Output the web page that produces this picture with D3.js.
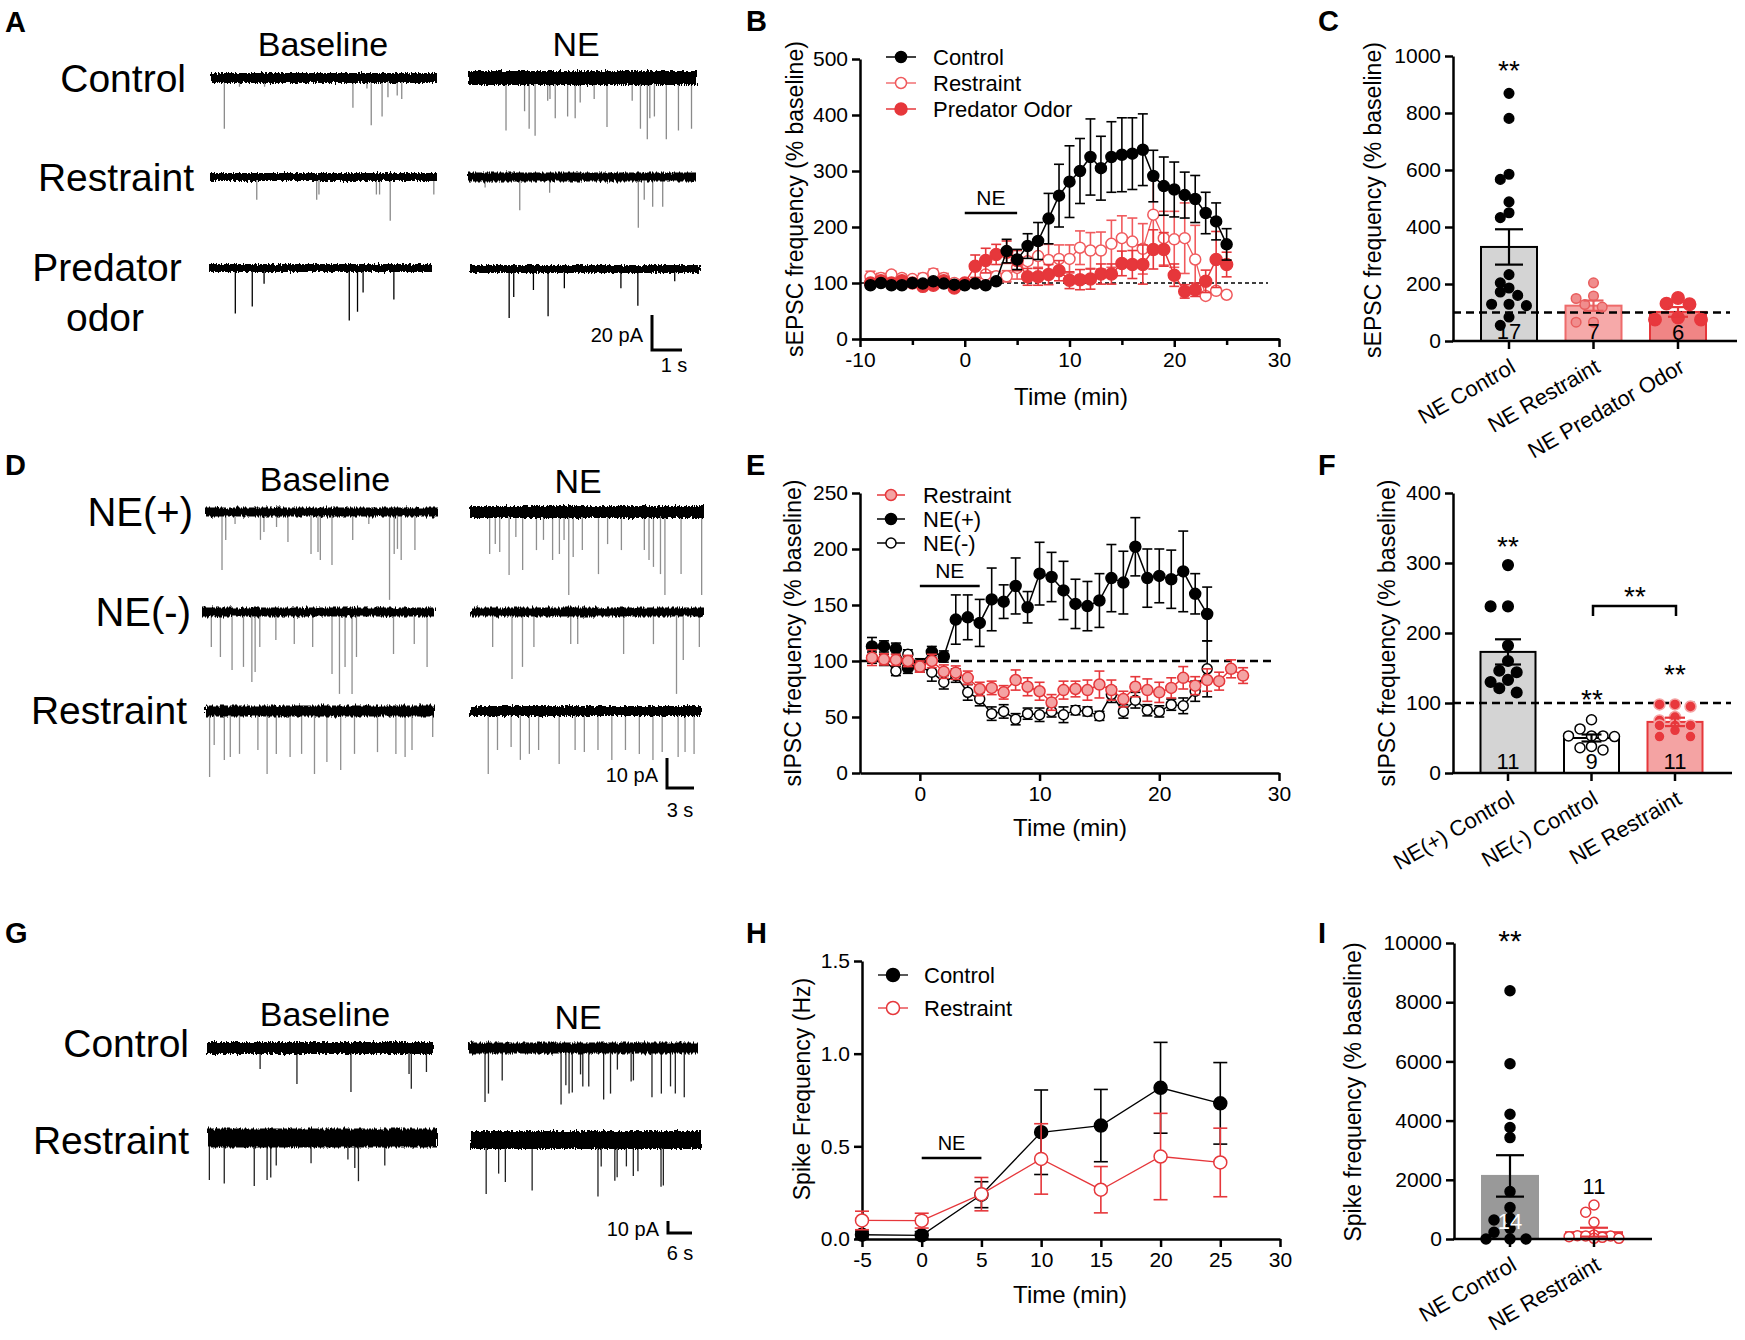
<!DOCTYPE html>
<html><head><meta charset="utf-8">
<script src="https://cdn.jsdelivr.net/npm/d3@7"></script>
<style>body{margin:0;background:#fff}svg{display:block}text{font-family:'Liberation Sans',Arial,Helvetica,sans-serif}</style>
</head><body>
<script>
// ====================== DATA ======================
// Trace events: [position within sweep (0-1), event amplitude (pA)]
const aCtrlBase = [[0.059,29],[0.126,5],[0.237,5],[0.628,17],[0.690,6],[0.709,27],[0.757,22],[0.783,11],[0.824,10],[0.844,12]];
const aCtrlNE = [[0.166,30],[0.247,19],[0.267,29],[0.293,33],[0.348,13],[0.358,12],[0.381,23],[0.435,22],[0.468,23],[0.490,14],[0.551,12],[0.607,28],[0.717,13],[0.753,29],[0.783,35],[0.794,23],[0.814,22],[0.866,35],[0.919,30],[0.976,29]];
const aRestBase = [[0.206,13],[0.470,13],[0.480,10],[0.733,10],[0.747,10],[0.794,25],[0.986,10]];
const aRestNE = [[0.075,6],[0.227,19],[0.358,9],[0.747,29],[0.773,13],[0.810,17],[0.854,17]];
const aPredBase = [[0.118,26],[0.194,22],[0.247,9],[0.629,30],[0.666,25],[0.691,14],[0.829,18]];
const aPredNE = [[0.171,28],[0.191,16],[0.277,12],[0.341,27],[0.412,11],[0.659,11],[0.733,21],[0.894,7]];

const dPlusBase = [[0.073,19.3],[0.089,9.3],[0.129,4],[0.238,9.3],[0.253,6.7],[0.307,5],[0.356,10],[0.455,14],[0.485,13.3],[0.495,16],[0.545,17.7],[0.634,9.3],[0.703,4],[0.792,29.3],[0.812,14],[0.826,12.3],[0.842,16],[0.901,12.7]];
const dPlusNE = [[0.084,14],[0.108,10.7],[0.127,13.3],[0.167,21],[0.196,8.3],[0.225,19.3],[0.284,12.7],[0.314,9.3],[0.353,16],[0.382,14],[0.402,9.3],[0.422,27.7],[0.441,15],[0.480,12.7],[0.549,20.7],[0.588,10.7],[0.647,12.7],[0.745,12.7],[0.765,16],[0.784,18.3],[0.814,20.7],[0.833,27.7],[0.902,20.7],[0.990,27.7]];
const dMinusBase = [[0.040,11.7],[0.079,15],[0.129,19.3],[0.178,18.3],[0.214,23.3],[0.228,20],[0.248,11.7],[0.317,9.3],[0.396,10.7],[0.475,11.7],[0.558,20.7],[0.590,27.3],[0.614,18.3],[0.644,27.3],[0.663,15],[0.822,14],[0.911,10.7],[0.966,18.3]];
const dMinusNE = [[0.093,11.7],[0.176,22.3],[0.221,18.3],[0.270,11.7],[0.428,10.7],[0.458,10.7],[0.655,14],[0.783,10.7],[0.882,27.3],[0.911,16],[0.980,11.7]];
const dRestBase = [[0.02,22],[0.04,11.3],[0.084,16.3],[0.11,15.3],[0.15,14.3],[0.23,13],[0.27,21],[0.31,14.3],[0.37,15.3],[0.42,14.3],[0.476,21],[0.53,17],[0.59,19.7],[0.65,14.3],[0.75,13.7],[0.83,14.3],[0.87,15.3],[0.90,13],[0.99,8.7]];
const dRestNE = [[0.079,21],[0.119,13],[0.178,12],[0.218,16.3],[0.257,14.3],[0.297,13],[0.386,17.7],[0.455,13],[0.495,13.7],[0.554,13],[0.614,16.3],[0.673,13],[0.733,14.3],[0.792,16.3],[0.832,13.7],[0.901,15.3],[0.931,13.7],[0.970,14.3]];

const gCtrlBase = [[0.235,17.5],[0.398,30],[0.637,36.7],[0.894,21.7],[0.904,34],[0.971,20]];
const gCtrlNE = [[0.070,45],[0.085,38],[0.145,27],[0.402,47],[0.423,31],[0.437,38],[0.451,37],[0.487,22],[0.497,32],[0.523,32],[0.588,43],[0.618,38],[0.648,18],[0.708,28],[0.718,27],[0.799,41],[0.840,38],[0.880,32],[0.901,38],[0.940,41]];
const gRestBase = [[0.006,35],[0.071,38],[0.202,40],[0.258,35],[0.274,33],[0.298,23],[0.450,21],[0.611,18],[0.641,25],[0.657,36],[0.772,23]];
const gRestNE = [[0.070,45],[0.124,28],[0.153,35],[0.269,42],[0.554,47],[0.568,22],[0.627,34],[0.637,31],[0.677,22],[0.707,30],[0.727,26],[0.827,39],[0.837,38]];

// Panel B: sEPSC time course
const bTime = [-9,-8,-7,-6,-5,-4,-3,-2,-1,0,1,2,3,4,5,6,7,8,9,10,11,12,13,14,15,16,17,18,19,20,21,22,23,24,25];
const bControl = [96,100,96,96,100,99,103,99,97,96,99,96,103,157,142,166,175,215,256,281,300,325,305,325,329,331,338,291,273,267,257,250,225,210,169];
const bControlSem = [4,4,4,4,4,4,5,4,4,4,4,4,4,21,18,22,33,45,56,64,58,68,57,63,66,64,64,46,52,49,41,42,37,33,28];
const bRestraint = [111,109,115,109,107,109,117,109,100,99,100,115,112,112,127,139,148,141,143,143,163,158,158,170,180,174,161,222,180,178,180,142,77,86,79];
const bRestraintSem = [10,8,6,6,6,8,8,8,6,5,6,6,8,10,20,25,20,28,25,25,30,32,33,42,40,42,45,63,48,50,63,61,5,5,5];
const bPredator = [100,104,100,104,100,94,96,104,91,100,130,140,151,155,140,111,111,115,122,105,106,107,116,116,135,133,133,160,160,114,85,88,103,142,133];
const bPredatorSem = [5,5,5,5,5,6,6,6,5,5,20,22,18,20,18,15,15,18,18,15,18,18,18,18,22,25,35,35,30,20,12,12,20,50,22];

// Panel C: sEPSC bars
const cCats = ["NE Control","NE Restraint","NE Predator Odor"];
const cMeans = [330,124,102];
const cSems = [62,18,17];
const cN = ["17","7","6"];
const cDots = [
  [869,781,585,567,488,450,433,233,204,186,172,160,129,129,124,84,55],
  [204,158,149,128,119,66,66],
  [151,131,129,82,75,75]
];

// Panel E: sIPSC time course
const eTimeR = [-4,-3,-2,-1,0,1,2,3,4,5,6,7,8,9,10,11,12,13,14,15,16,17,18,19,20,21,22,23,24,25,26,27];
const eRestraint = [103,101.5,101,100,95,100,90.5,89.6,85,75,76,72,83,77,73,63,74,75,74,79,74,66,77,74,72,76,85,78,83,82,93,87];
const eRestraintSem = [7,5,5,5,5,6,6,6,6,6,6,6,9,8,8,7,8,7,9,12,9,7,9,10,9,9,10,8,10,8,8,7];
const eTimeNE = [-4,-3,-2,-1,0,1,2,3,4,5,6,7,8,9,10,11,12,13,14,15,16,17,18,19,20,21,22,23,24];
const eNEplus = [113,113,111,94,97,108,104,137,139,134,155,153,167,148,178,175,163,151,149,154,174,170,202,174,176,173,180,160,142];
const eNEplusSem = [8,5,5,5,5,5,5,22,20,21,28,15,25,14,28,22,26,22,22,24,30,28,26,26,24,26,36,18,24];
const eNEminus = [103,101,91,106,95,90,81,87,72,66,53,55,48,53,52,55,52,56,55,51,70,55,65,56,55,61,60,73,93];
const eNEminusSem = [5,5,4,4,5,8,6,6,7,6,6,6,5,5,6,5,7,4,4,4,7,6,7,5,5,5,7,9,25];

// Panel F: sIPSC bars
const fCats = ["NE(+) Control","NE(-) Control","NE Restraint"];
const fMeans = [173,50,73];
const fSems = [18,5,6];
const fN = ["11","9","11"];
const fDots = [
  [297,238,238,182,160,146,144,133,130,121,115],
  [76,63,53,53,53,52,38,36,33],
  [98,98,95,80,75,68,68,68,61,52,52]
];

// Panel H: spike frequency
const hTime = [-5,0,5,10,15,20,25];
const hControl = [0.023,0.020,0.239,0.576,0.612,0.816,0.732];
const hControlSem = [0.02,0.02,0.07,0.228,0.195,0.245,0.22];
const hRestraint = [0.100,0.099,0.242,0.432,0.266,0.445,0.413];
const hRestraintSem = [0.05,0.04,0.09,0.19,0.125,0.233,0.185];

// Panel I: spike frequency bars
const iCats = ["NE Control","NE Restraint"];
const iMeans = [2131,230];
const iSems = [700,150];
const iN = ["14","11"];
const iDots = [
  [8388,5919,4216,3765,3427,1601,1060,699,643,361,225,0,0,0],
  [1150,902,564,135,113,100,100,80,56,23,23]
];

// ====================== DRAWING ======================
const RED = '#e6373b';
const svg = d3.select('body').append('svg').attr('width',1745).attr('height',1340);

// noise texture filter for recording sweeps
const defs = svg.append('defs');
const flt = defs.append('filter').attr('id','noisy').attr('filterUnits','userSpaceOnUse')
  .attr('x',0).attr('y',0).attr('width',1745).attr('height',1340);
flt.append('feTurbulence').attr('type','fractalNoise').attr('baseFrequency','0.7 0.08').attr('numOctaves',2).attr('seed',7).attr('result','n');
flt.append('feDisplacementMap').attr('in','SourceGraphic').attr('in2','n').attr('scale',6)
  .attr('xChannelSelector','R').attr('yChannelSelector','G');

function txt(x,y,s,size,opt={}){
  const t = svg.append('text').attr('x',x).attr('y',y).attr('font-size',size)
    .attr('text-anchor',opt.anchor||'middle').attr('dy',opt.dy||'0.35em')
    .attr('fill',opt.fill||'#000').text(s);
  if(opt.bold) t.attr('font-weight','bold');
  if(opt.rotate!=null) t.attr('transform',`rotate(${opt.rotate},${x},${y})`);
  return t;
}

// Panel letters
[['A',5,32],['D',5,475],['G',5,943],['B',746,31],['E',746,475],['H',746,943],['C',1318,31],['F',1318,475],['I',1318,943]]
  .forEach(([s,x,y])=>txt(x,y,s,29,{anchor:'start',dy:'0',bold:true}));

// ---------- Traces ----------
function drawTrace(x0,x1,y,events,pxPerPA,band,spikeColor){
  const xs = d3.scaleLinear([0,1],[x0,x1]);
  const amp = d3.scaleLinear([0,1],[0,pxPerPA]);
  svg.append('g').selectAll('line').data(events).join('line')
    .attr('x1',d=>xs(d[0])).attr('x2',d=>xs(d[0]))
    .attr('y1',y).attr('y2',d=>y+amp(d[1]))
    .attr('stroke',spikeColor).attr('stroke-width',1.3);
  svg.append('rect').attr('x',x0).attr('width',x1-x0).attr('y',y-band/2).attr('height',band)
    .attr('fill','#000').attr('filter','url(#noisy)');
}
function scaleBar(x,yTop,vLen,hLen,lab1,lab2,lab2x,lab2y){
  svg.append('path').attr('d',`M${x},${yTop}V${yTop+vLen}H${x+hLen}`).attr('fill','none')
    .attr('stroke','#000').attr('stroke-width',3);
  txt(x-9,yTop+vLen/2+2,lab1,20,{anchor:'end'});
  txt(lab2x,lab2y,lab2,20);
}

// Panel A
const aPx = 35/20; // px per pA
txt(323,44,'Baseline',34); txt(576,44,'NE',34);
txt(186,78,'Control',39,{anchor:'end'});
txt(194,177,'Restraint',39,{anchor:'end'});
txt(107,267,'Predator',39); txt(105,317,'odor',39);
drawTrace(211,437,78,aCtrlBase,aPx,10,'#8a8a8a');
drawTrace(468,697,78,aCtrlNE,aPx,14,'#8a8a8a');
drawTrace(210,437,177,aRestBase,aPx,8,'#8a8a8a');
drawTrace(468,696,177,aRestNE,aPx,9,'#8a8a8a');
drawTrace(209,432,268,aPredBase,aPx,8,'#000');
drawTrace(470,699,269,aPredNE,aPx,8,'#000');
scaleBar(652,315,20*aPx,30,'20 pA','1 s',674,365);

// Panel D
const dPx = 3;
txt(325,479,'Baseline',34); txt(578,481,'NE',34);
txt(193,512,'NE(+)',40,{anchor:'end'});
txt(191,612,'NE(-)',40,{anchor:'end'});
txt(187,710,'Restraint',39,{anchor:'end'});
drawTrace(205,438,512,dPlusBase,dPx,9,'#8f8f8f');
drawTrace(470,704,512,dPlusNE,dPx,12,'#8f8f8f');
drawTrace(202,435,612,dMinusBase,dPx,9,'#8f8f8f');
drawTrace(471,704,612,dMinusNE,dPx,9,'#8f8f8f');
drawTrace(205,435,711,dRestBase,dPx,11,'#8f8f8f');
drawTrace(470,701,711,dRestNE,dPx,10,'#8f8f8f');
scaleBar(667,758,10*dPx,27,'10 pA','3 s',680,810);

// Panel G
const gPx = 1.2;
txt(325,1014,'Baseline',34); txt(578,1017,'NE',34);
txt(189,1043,'Control',39,{anchor:'end'});
txt(189,1140,'Restraint',39,{anchor:'end'});
drawTrace(207,433,1048,gCtrlBase,gPx,12,'#222');
drawTrace(469,698,1048,gCtrlNE,gPx,11,'#222');
drawTrace(208,437,1138,gRestBase,gPx,19,'#222');
drawTrace(470,701,1140,gRestNE,gPx,18,'#222');
scaleBar(668,1221,10*gPx,24,'10 pA','6 s',680,1253);

// ---------- Line plots ----------
function styleAxis(g){
  g.attr('font-family',null).attr('font-size',21);
  g.selectAll('path,line').attr('stroke','#000').attr('stroke-width',2.5);
  g.selectAll('text').attr('fill','#000');
}
function linePlot(o){
  const x = d3.scaleLinear(o.xDomain,o.xRange);
  const y = d3.scaleLinear(o.yDomain,o.yRange);
  const g = svg.append('g');
  if(o.ref!=null) g.append('line').attr('x1',o.xRange[0]).attr('x2',o.refEnd)
    .attr('y1',y(o.ref)).attr('y2',y(o.ref)).attr('stroke','#000')
    .attr('stroke-width',o.refW).attr('stroke-dasharray',o.refDash);
  const fmt = o.xFmt || (d=>String(d));
  if(o.xMinor){
    const gm = g.append('g').attr('transform',`translate(0,${o.yRange[0]})`)
      .call(d3.axisBottom(x).tickValues(o.xMinor).tickFormat('').tickSize(6).tickSizeOuter(0));
    styleAxis(gm);
  }
  const gx = g.append('g').attr('transform',`translate(0,${o.yRange[0]})`)
    .call(d3.axisBottom(x).tickValues(o.xTicks).tickFormat(fmt).tickSize(8).tickSizeOuter(0).tickPadding(5));
  styleAxis(gx);
  const gy = g.append('g').attr('transform',`translate(${o.xRange[0]},0)`)
    .call(d3.axisLeft(y).tickValues(o.yTicks).tickFormat(o.yFmt||(d=>String(d))).tickSize(8).tickSizeOuter(0).tickPadding(4));
  styleAxis(gy);
  // NE bar
  g.append('line').attr('x1',x(0)).attr('x2',x(5)).attr('y1',o.neY).attr('y2',o.neY)
    .attr('stroke','#000').attr('stroke-width',2.5);
  txt(x(2.5),o.neY-15,'NE',o.neSize||21);
  // series
  o.series.forEach(s=>{
    const pts = s.x.map((t,i)=>({t,v:s.y[i],e:s.e[i]}));
    const sg = svg.append('g');
    sg.append('path').datum(pts).attr('fill','none').attr('stroke',s.line).attr('stroke-width',s.lw||1.5)
      .attr('d',d3.line().x(d=>x(d.t)).y(d=>y(d.v)));
    const eb = sg.selectAll('g.eb').data(pts).join('g').attr('stroke',s.line).attr('stroke-width',1.6);
    eb.append('line').attr('x1',d=>x(d.t)).attr('x2',d=>x(d.t)).attr('y1',d=>y(d.v-d.e)).attr('y2',d=>y(d.v+d.e));
    eb.append('line').attr('x1',d=>x(d.t)-s.cap).attr('x2',d=>x(d.t)+s.cap).attr('y1',d=>y(d.v+d.e)).attr('y2',d=>y(d.v+d.e));
    eb.append('line').attr('x1',d=>x(d.t)-s.cap).attr('x2',d=>x(d.t)+s.cap).attr('y1',d=>y(d.v-d.e)).attr('y2',d=>y(d.v-d.e));
    sg.selectAll('circle').data(pts).join('circle').attr('cx',d=>x(d.t)).attr('cy',d=>y(d.v)).attr('r',s.r)
      .attr('fill',s.fill).attr('stroke',s.stroke).attr('stroke-width',s.sw||1.5);
  });
  // legend
  o.legend.forEach((L,i)=>{
    const ly = o.legY + i*o.legStep;
    const s = o.series.find(q=>q.name===L);
    svg.append('line').attr('x1',o.legX).attr('x2',o.legX+o.legW).attr('y1',ly).attr('y2',ly)
      .attr('stroke',s.line).attr('stroke-width',s.lw||1.5);
    svg.append('circle').attr('cx',o.legX+o.legW/2).attr('cy',ly).attr('r',s.r)
      .attr('fill',s.fill).attr('stroke',s.stroke).attr('stroke-width',s.sw||1.5);
    txt(o.legTextX,ly,L,22,{anchor:'start'});
  });
  txt(o.xTitle[0],o.xTitle[1],'Time (min)',24);
  txt(o.yTitle[0],o.yTitle[1],o.yLabel,23,{rotate:-90});
}

// Panel B
linePlot({
  xDomain:[-10,30], xRange:[860,1279], yDomain:[0,500], yRange:[339,59],
  xTicks:[-10,0,10,20,30], xMinor:[-5,5,15,25], yTicks:[0,100,200,300,400,500],
  ref:100, refEnd:1268, refW:1.3, refDash:'4,3', neY:213,
  series:[
    {name:'Restraint',x:bTime,y:bRestraint,e:bRestraintSem,line:'#f05a5d',fill:'#fff',stroke:'#f05a5d',r:5.5,cap:5,lw:1.3},
    {name:'Predator Odor',x:bTime,y:bPredator,e:bPredatorSem,line:RED,fill:RED,stroke:RED,r:6,cap:5},
    {name:'Control',x:bTime,y:bControl,e:bControlSem,line:'#000',fill:'#000',stroke:'#000',r:5.5,cap:5},
  ],
  legend:['Control','Restraint','Predator Odor'], legX:886, legW:30, legY:57, legStep:26, legTextX:933,
  xTitle:[1071,397], yTitle:[795,199], yLabel:'sEPSC frequency (% baseline)'
});

// Panel E
linePlot({
  xDomain:[-5,30], xRange:[860,1279], yDomain:[0,250], yRange:[773,493],
  xTicks:[0,10,20,30], yTicks:[0,50,100,150,200,250],
  ref:100, refEnd:1273, refW:2.5, refDash:'8,5', neY:586,
  series:[
    {name:'NE(+)',x:eTimeNE,y:eNEplus,e:eNEplusSem,line:'#000',fill:'#000',stroke:'#000',r:5.5,cap:5},
    {name:'NE(-)',x:eTimeNE,y:eNEminus,e:eNEminusSem,line:'#000',fill:'#fff',stroke:'#000',r:5,cap:5},
    {name:'Restraint',x:eTimeR,y:eRestraint,e:eRestraintSem,line:RED,fill:'#f4a3a3',stroke:RED,r:5.5,cap:5},
  ],
  legend:['Restraint','NE(+)','NE(-)'], legX:877, legW:28, legY:495, legStep:24, legTextX:923,
  xTitle:[1070,828], yTitle:[793,633], yLabel:'sIPSC frequency (% baseline)'
});

// Panel H
linePlot({
  xDomain:[-5,30], xRange:[862,1280], yDomain:[0,1.5], yRange:[1239,961],
  xTicks:[-5,0,5,10,15,20,25,30], yTicks:[0,0.5,1.0,1.5], yFmt:d=>d.toFixed(1),
  ref:null, neY:1158, neSize:20,
  series:[
    {name:'Control',x:hTime,y:hControl,e:hControlSem,line:'#000',fill:'#000',stroke:'#000',r:6.5,cap:7,lw:1.3},
    {name:'Restraint',x:hTime,y:hRestraint,e:hRestraintSem,line:RED,fill:'#fff',stroke:RED,r:6.5,cap:7,lw:1.3},
  ],
  legend:['Control','Restraint'], legX:878, legW:30, legY:975, legStep:33, legTextX:924,
  xTitle:[1070,1295], yTitle:[802,1089], yLabel:'Spike Frequency (Hz)'
});

// ---------- Bar plots ----------
function swarm(vals,ys,r,step,maxOff){
  const pts=[]; const K=Math.floor(maxOff/step+1e-6);
  const cands=[0]; for(let k=1;k<=K;k++) cands.push(-k*step,k*step);
  vals.map((v,i)=>i).sort((a,b)=>vals[b]-vals[a]).forEach(i=>{
    const yy=ys(vals[i]); let best=0,bestD=-1;
    for(const off of cands){
      const d = pts.length ? d3.min(pts,p=>Math.hypot(p.dx-off,p.y-yy)) : Infinity;
      if(d>=2*r*0.95){best=off;break;}
      if(d>bestD){bestD=d;best=off;}
    }
    pts.push({dx:best,y:yy});
  });
  return pts;
}
function barPlot(o){
  const y = d3.scaleLinear(o.yDomain,o.yRange);
  const x = d3.scalePoint().domain(o.cats).range(o.centers);
  const y0 = o.yRange[0];
  const g = svg.append('g');
  o.cats.forEach((c,i)=>{
    const st=o.styles[i], cx=x(c);
    g.append('rect').attr('x',cx-o.bw/2).attr('width',o.bw).attr('y',y(o.means[i])).attr('height',y0-y(o.means[i]))
      .attr('fill',st.barFill).attr('stroke',st.barStroke).attr('stroke-width',2);
  });
  if(o.ref!=null) g.append('line').attr('x1',o.axisX).attr('x2',o.refEnd).attr('y1',y(o.ref)).attr('y2',y(o.ref))
    .attr('stroke','#000').attr('stroke-width',2.5).attr('stroke-dasharray','8,5');
  o.cats.forEach((c,i)=>{
    const st=o.styles[i], cx=x(c);
    txt(cx,o.nY[i],o.n[i],22,{fill:st.nFill||'#000'});
    swarm(o.dots[i],y,st.r,st.step,st.maxOff).forEach(p=>{
      g.append('circle').attr('cx',cx+p.dx).attr('cy',p.y).attr('r',st.r)
        .attr('fill',st.dotFill).attr('stroke',st.dotStroke).attr('stroke-width',st.dsw||1.5);
    });
    const eg=g.append('g').attr('stroke',st.errColor).attr('stroke-width',2.2);
    const yt=y(o.means[i]+o.sems[i]), yb=y(o.means[i]-o.sems[i]);
    eg.append('line').attr('x1',cx).attr('x2',cx).attr('y1',yt).attr('y2',yb);
    eg.append('line').attr('x1',cx-st.cap).attr('x2',cx+st.cap).attr('y1',yt).attr('y2',yt);
    eg.append('line').attr('x1',cx-st.cap).attr('x2',cx+st.cap).attr('y1',yb).attr('y2',yb);
  });
  const gy = g.append('g').attr('transform',`translate(${o.axisX},0)`)
    .call(d3.axisLeft(y).tickValues(o.yTicks).tickFormat(d=>String(d)).tickSize(8).tickSizeOuter(0).tickPadding(4));
  styleAxis(gy);
  g.append('line').attr('x1',o.axisX-1).attr('x2',o.axisEnd).attr('y1',y0).attr('y2',y0).attr('stroke','#000').attr('stroke-width',2.5);
  o.cats.forEach(c=>{
    const cx=x(c);
    g.append('line').attr('x1',cx).attr('x2',cx).attr('y1',y0).attr('y2',y0+8).attr('stroke','#000').attr('stroke-width',2.5);
    svg.append('text').attr('transform',`translate(${cx+8},${y0+30}) rotate(-30)`).attr('text-anchor','end')
      .attr('font-size',22).text(c);
  });
  txt(o.yTitle[0],o.yTitle[1],o.yLabel,23,{rotate:-90});
}

// Panel C
barPlot({
  cats:cCats, means:cMeans, sems:cSems, n:cN, dots:cDots,
  centers:[1509,1678], bw:56, yDomain:[0,1000], yRange:[341,56], yTicks:[0,200,400,600,800,1000],
  axisX:1453, axisEnd:1737, ref:100, refEnd:1730, nY:[331,331,332],
  styles:[
    {barFill:'#d4d4d4',barStroke:'#000',dotFill:'#000',dotStroke:'#000',r:4.8,step:8.7,maxOff:18,errColor:'#000',cap:14},
    {barFill:'#f6a9a9',barStroke:'#ee6b6b',dotFill:'#f08d8d',dotStroke:'#e85d5d',r:4.8,step:8.7,maxOff:18,errColor:'#e85d5d',cap:10},
    {barFill:'#f08585',barStroke:RED,dotFill:'#e8383d',dotStroke:'#e8383d',r:6.2,step:11.5,maxOff:23,errColor:RED,cap:10},
  ],
  yTitle:[1373,200], yLabel:'sEPSC frequency (% baseline)'
});
txt(1509,70,'**',28);

// Panel F
barPlot({
  cats:fCats, means:fMeans, sems:fSems, n:fN, dots:fDots,
  centers:[1508,1675], bw:55, yDomain:[0,400], yRange:[773,493], yTicks:[0,100,200,300,400],
  axisX:1453, axisEnd:1732, ref:100, refEnd:1731, nY:[761,761,761],
  styles:[
    {barFill:'#d4d4d4',barStroke:'#000',dotFill:'#000',dotStroke:'#000',r:5.3,step:8.7,maxOff:18,errColor:'#000',cap:13},
    {barFill:'#fff',barStroke:'#000',dotFill:'#fff',dotStroke:'#000',r:5,step:11.5,maxOff:23,errColor:'#000',cap:10},
    {barFill:'#f4a3a3',barStroke:RED,dotFill:'#e8383d',dotStroke:'#f4a3a3',r:5.5,step:15.5,maxOff:24,errColor:RED,cap:10},
  ],
  yTitle:[1387,633], yLabel:'sIPSC frequency (% baseline)'
});
txt(1508,546,'**',28); txt(1592,699,'**',28); txt(1675,674,'**',28); txt(1635,596,'**',28);
svg.append('path').attr('d','M1593,616V606H1676V616').attr('fill','none').attr('stroke','#000').attr('stroke-width',2.5);

// Panel I
barPlot({
  cats:iCats, means:iMeans, sems:iSems, n:iN, dots:iDots,
  centers:[1510,1594], bw:56, yDomain:[0,10000], yRange:[1239,943], yTicks:[0,2000,4000,6000,8000,10000],
  axisX:1454, axisEnd:1652, ref:null, nY:[1221,1186],
  styles:[
    {barFill:'#999999',barStroke:'#999999',dotFill:'#000',dotStroke:'#000',r:5,step:8,maxOff:24,errColor:'#000',cap:14,nFill:'#fff'},
    {barFill:'#fff',barStroke:RED,dotFill:'#fff',dotStroke:RED,r:5,step:8.3,maxOff:25,errColor:RED,cap:14},
  ],
  yTitle:[1353,1092], yLabel:'Spike frequency (% baseline)'
});
txt(1510,940,'**',30);
</script>
</body></html>
